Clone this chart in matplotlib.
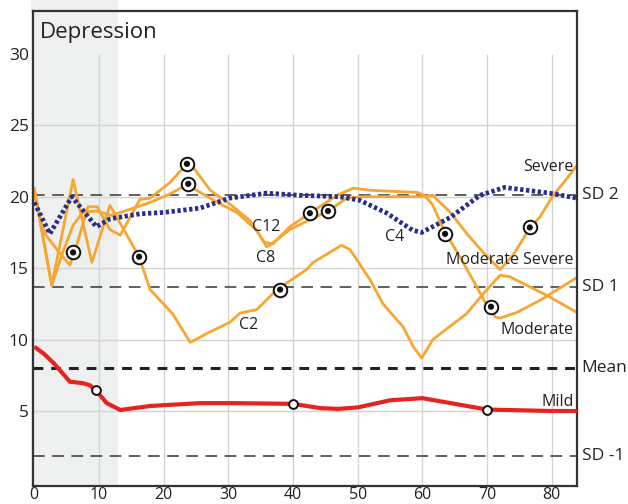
import matplotlib
matplotlib.use("Agg")
import matplotlib.pyplot as plt
from matplotlib.patches import Rectangle

plt.rcParams['font.family'] = ['Open Sans', 'DejaVu Sans']

# --- data ---
c2_x = [0, 2.7, 6.0, 8.9, 11.7, 16.2, 17.9, 21.4, 24.1, 27, 30.2, 31.8, 34.4, 37.5, 42.1, 43.1,
        47.5, 48.8, 51.9, 53.9, 57, 58.6, 59.9, 61.6, 66.8, 69.4, 72, 73.5, 79.2, 83.9]
c2_y = [20.5, 13.8, 21.2, 15.4, 19.4, 15.8, 13.5, 11.8, 9.8, 10.5, 11.2, 11.85, 12.1, 13.5, 14.9, 15.4,
        16.6, 16.3, 14.2, 12.5, 10.9, 9.5, 8.7, 10.0, 11.8, 13.2, 14.5, 14.4, 13.1, 11.9]

c12_x = [0, 1.5, 3.5, 5.5, 6.8, 8.3, 9.7, 11.7, 13.3, 16.3, 17.9, 21, 23.6, 24.5, 27.2, 30.2,
         33.3, 35.6, 36.9, 39.5, 42.6, 46.8, 49.3, 51.9, 59.2, 60.3, 61.5, 63.5, 65.8, 68.4,
         69.7, 70.6, 71.2, 72, 74.6, 78.2, 83.9]
c12_y = [20.1, 17.5, 16.3, 15.2, 17.0, 19.3, 19.3, 17.7, 17.3, 19.8, 19.9, 21.0, 22.3, 22.1, 20.45, 19.5,
         18.35, 16.8, 16.7, 17.9, 18.85, 20.1, 20.6, 20.45, 20.3, 20.1, 19.5, 17.5, 15.8, 13.7,
         12.6, 12.3, 11.6, 11.5, 11.9, 12.75, 14.35]

c8_x = [0, 2.7, 4.4, 6.0, 7.5, 9.5, 12, 16, 17.9, 21, 23.8, 25.1, 28.3, 31.3, 34.4, 35.9, 36.4,
        39.5, 45.4, 48.3, 50.8, 60.1, 61.6, 64.3, 66.9, 69.4, 72, 74, 76.6, 78.2, 80.2, 81.7, 83.9]
c8_y = [20.6, 13.8, 16.1, 18.0, 18.9, 19.0, 18.7, 19.3, 19.6, 20.2, 20.9, 20.45, 19.6, 18.9, 17.65, 16.5, 16.6,
        17.7, 19.0, 19.9, 20.0, 20.0, 20.1, 18.9, 17.4, 16.1, 14.9, 15.9, 17.8, 18.6, 20.1, 20.9, 22.2]

norm_x = [0, 2.4, 5.8, 9.6, 11.7, 16.3, 20, 25.6, 30.2, 35.9, 41, 47.2, 50.3, 54.5, 58.5, 59.9,
          64.3, 68.9, 72.7, 79.7, 83.9]
norm_y = [19.6, 17.4, 20.0, 17.9, 18.45, 18.8, 18.9, 19.2, 19.9, 20.25, 20.1, 20.0, 19.75, 18.85, 17.65, 17.5,
          18.55, 20.1, 20.65, 20.25, 19.9]

mild_x = [0, 1.5, 3, 5.5, 7.5, 8.6, 9.6, 11.2, 13.3, 17.9, 25.6, 30.8, 40, 44.2, 47, 50, 55, 60,
          65, 70, 75, 80, 83.9]
mild_y = [9.5, 9.0, 8.35, 7.05, 6.95, 6.8, 6.4, 5.55, 5.07, 5.35, 5.55, 5.55, 5.5, 5.2, 5.15, 5.25, 5.75, 5.9,
          5.5, 5.1, 5.05, 5.0, 5.0]

open_x = [9.6, 40, 70]
open_y = [6.45, 5.5, 5.1]

dot_x = [6.0, 16.2, 23.6, 23.8, 38.0, 42.6, 45.4, 63.5, 70.6, 76.6]
dot_y = [16.1, 15.8, 22.3, 20.9, 13.5, 18.85, 19.0, 17.4, 12.3, 17.85]

ref_names = ["SD 2", "SD 1", "Mean", "SD -1"]
ref_vals = [20.15, 13.7, 7.98, 1.85]

curve_labels = ["Severe", "Moderate Severe", "Moderate", "Mild"]
curve_label_y = [22.06, 15.56, 10.66, 5.65]
case_labels = ["C12", "C8", "C2", "C4"]
case_x = [35.8, 35.8, 33.2, 55.7]
case_y = [17.86, 15.7, 11.0, 17.2]

orange = "#f7a632"
dark = "#333333"

fig = plt.figure(figsize=(6.28, 5.04), dpi=100)
ax = fig.add_axes([33 / 628, 18 / 504, 544 / 628, 475 / 504])
ax.set_facecolor("none")
fig.patches.append(Rectangle((31 / 628, 18 / 504), 87 / 628, 1, transform=fig.transFigure,
                             facecolor="#eef0f0", edgecolor="none", zorder=-5))

ax.set_xlim(-0.2, 83.9)
ax.set_ylim(-0.25, 33)

# grid
ax.vlines(range(10, 90, 10), -0.25, 30, colors="#d3d3d3", lw=1, zorder=0)
ax.hlines(range(5, 30, 5), -0.2, 83.9, colors="#d3d3d3", lw=1, zorder=0)

# reference lines
for name, v in zip(ref_names, ref_vals):
    if name == "Mean":
        ax.axhline(v, color="#222222", lw=2.2, ls=(0, (3.2, 2.6)), zorder=1)
    else:
        ax.axhline(v, color="#444444", lw=1.2, ls=(0, (7, 4.5)), zorder=1)
    ax.text(84.6, v, name, ha="left", va="center", fontsize=12.5, color="#222222", clip_on=False)

for xs, ys in [(c2_x, c2_y), (c12_x, c12_y), (c8_x, c8_y)]:
    ax.plot(xs, ys, color=orange, lw=2.0, solid_joinstyle="round", zorder=2)

ax.plot(norm_x, norm_y, color="#2a2d8c", lw=3.4, ls=(0, (0.7, 0.55)),
        dash_capstyle="butt", zorder=3)
ax.plot(mild_x, mild_y, color="#e5231f", lw=3.0, solid_capstyle="butt", zorder=3)

ax.scatter(open_x, open_y, s=40, facecolor="white", edgecolor="#111111", lw=1.4, zorder=5)
ax.scatter(dot_x, dot_y, s=95, facecolor="white", edgecolor="#111111", lw=1.4, zorder=5)
ax.scatter(dot_x, dot_y, s=20, facecolor="#111111", edgecolor="none", zorder=6)

for t, y in zip(curve_labels, curve_label_y):
    ax.text(83.4, y, t, ha="right", va="center", fontsize=11.5, color="#222222", zorder=4)
for t, x, y in zip(case_labels, case_x, case_y):
    ax.text(x, y, t, ha="center", va="center", fontsize=11.5, color="#222222", zorder=4)

ax.text(0.013, 0.954, "Depression", transform=ax.transAxes, ha="left", va="center",
        fontsize=16, color="#222222")

ax.set_xticks(range(0, 90, 10))
ax.set_yticks(range(5, 35, 5))
ax.tick_params(axis="y", length=0, labelsize=12.5, colors="#222222", pad=3)
ax.tick_params(axis="x", length=0, labelsize=11.5, colors="#222222", pad=0.5)
for s in ax.spines.values():
    s.set_color(dark)
    s.set_linewidth(1.6)

fig.savefig("out.png", dpi=100)
